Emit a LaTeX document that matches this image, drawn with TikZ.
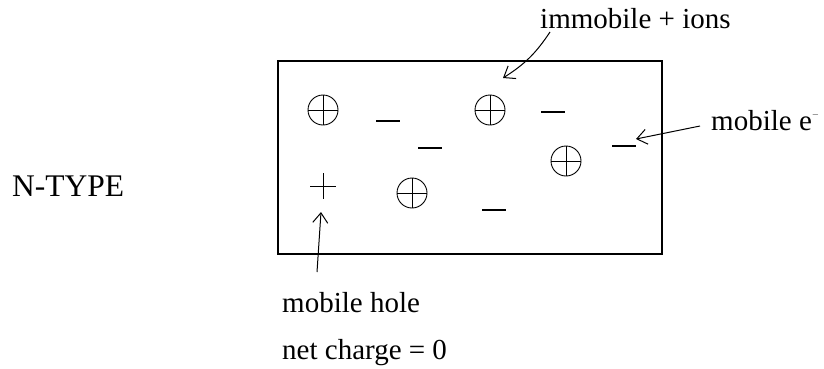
\documentclass[tikz,border=0pt]{standalone}
\usepackage{fontspec}
\setmainfont{Liberation Serif}
\usetikzlibrary{arrows.meta}
\tikzset{
    lbl/.style={
        font=\fontsize{29}{34}\selectfont, inner sep=0pt, anchor=base west,
    },
    ion/.style={
        circle, draw, line width=0.9pt, minimum size=30pt, inner sep=0pt,
        path picture={
            \draw[line width=0.9pt]
                (path picture bounding box.west) -- (path picture bounding box.east)
                (path picture bounding box.north) -- (path picture bounding box.south);
        },
    },
    holept/.style={
        minimum size=25pt, inner sep=0pt,
    },
    elec/.style={
        fill=black, minimum width=24pt, minimum height=1.1pt, inner sep=0pt,
    },
    arr/.style={
        -{Straight Barb[length=10pt, width=15pt]}, line width=1pt,
    },
}
\begin{document}
\begin{tikzpicture}[x=1pt, y=-1pt]
\useasboundingbox (0,0) rectangle (824,368);

% crystal block
\node[draw, line width=1.3pt, minimum width=384pt, minimum height=193pt,
      inner sep=0pt] (crystal) at (470,157.5) {};

% immobile donor ions
\node[ion] (ion1) at (323,110) {};
\node[ion] (ion2) at (490,110) {};
\node[ion] (ion3) at (566,161) {};
\node[ion] (ion4) at (412,193) {};

% free electrons
\node[elec] (e1) at (388,121) {};
\node[elec] (e2) at (430,148) {};
\node[elec] (e3) at (553,112) {};
\node[elec] (e4) at (624,146) {};
\node[elec] (e5) at (494,210) {};

% hole
\node[holept] (hole) at (323,186) {};
\draw[line width=0.9pt] (hole.west) -- (hole.east) (hole.north) -- (hole.south);

% labels
\node[lbl, font=\fontsize{31.5}{36}\selectfont] (ntype) at (12,196) {N-TYPE};
\node[lbl] (immlbl) at (540,28) {immobile + ions};
\node[lbl] (elbl) at (711,130) {mobile e\raisebox{13pt}{\fontsize{9}{9}\selectfont$-$}};
\node[lbl] (hlbl) at (282,312) {mobile hole};
\node[lbl] (netlbl) at (282,359) {net charge = 0};

% arrow ends
\coordinate (imtip) at (503,78);
\coordinate (etip) at (636,139);
\coordinate (htip) at (321,212);

\draw[arr] ([shift={(10,4)}]immlbl.base west) to[bend left=12] (imtip);
\draw[arr] ([shift={(-11,-4)}]elbl.base west) -- (etip);
\draw[arr] ([shift={(35,-40)}]hlbl.base west) -- (htip);

\end{tikzpicture}
\end{document}
